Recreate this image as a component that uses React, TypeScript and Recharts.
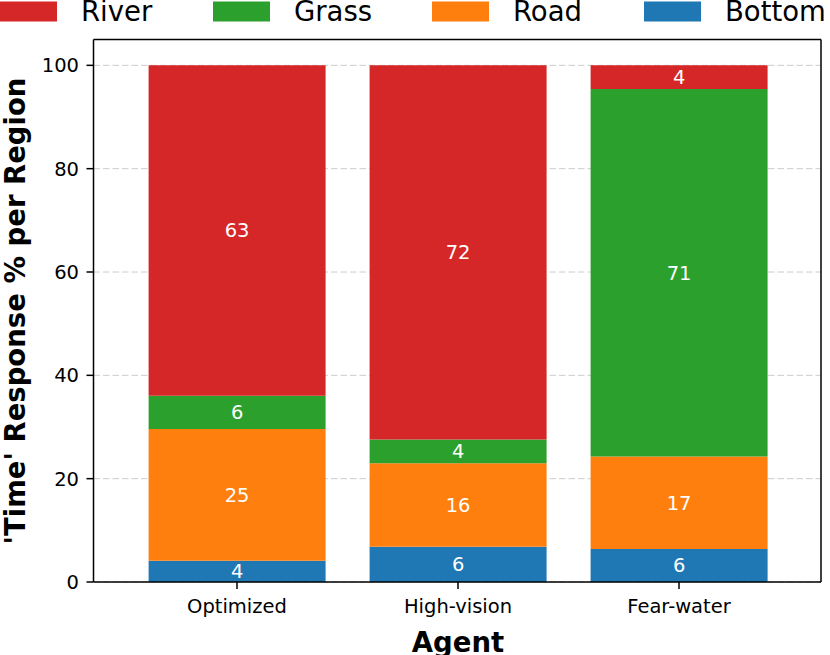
import React from 'react';
import { BarChart, Bar, XAxis, YAxis, CartesianGrid, Legend, LabelList } from 'recharts';

const agents = ['Optimized', 'High-vision', 'Fear-water'];
const bottomVals = [4.1, 6.8, 6.4];
const roadVals = [25.5, 16.2, 17.9];
const grassVals = [6.45, 4.6, 71.1];
const riverVals = [63.95, 72.4, 4.6];
const yTicks = [0, 20, 40, 60, 80, 100];
const seriesNames = ['Bottom', 'Road', 'Grass', 'River'];
const seriesColors = ['#1f77b4', '#ff7f0e', '#2ca02c', '#d62728'];
const seriesValues = [bottomVals, roadVals, grassVals, riverVals];

const data = agents.map((a, i) => {
  const row: Record<string, any> = { agent: a };
  seriesNames.forEach((s, j) => {
    row[s] = seriesValues[j][i];
  });
  return row;
});

const FONT = '"DejaVu Sans", sans-serif';
const legendX = [0, 213, 432, 644];

const renderLegend = () => {
  const items = seriesNames.map((n, i) => ({ name: n, color: seriesColors[i] })).reverse();
  return (
    <svg width={830} height={30} style={{ display: 'block' }}>
      {items.map((it, i) => (
        <g key={it.name}>
          <rect x={legendX[i]} y={1.5} width={57} height={20} fill={it.color} />
          <text x={legendX[i] + 81} y={21} fontSize={27.5} fontFamily={FONT} fill="#000">
            {it.name}
          </text>
        </g>
      ))}
    </svg>
  );
};

const YTitle = () => (
  <text
    x={25}
    y={311}
    transform="rotate(-90, 25, 311)"
    textAnchor="middle"
    fontSize={27.5}
    fontWeight="bold"
    fontFamily={FONT}
    fill="#000"
  >
    'Time' Response % per Region
  </text>
);

const XTitle = () => (
  <text x={458} y={651.7} textAnchor="middle" fontSize={27.5} fontWeight="bold" fontFamily={FONT} fill="#000">
    Agent
  </text>
);

export default function App() {
  return (
    <div style={{ position: 'absolute', left: 0, top: 0, width: 830, height: 655, background: '#fff' }}>
      <BarChart
        width={830}
        height={655}
        data={data}
        margin={{ top: 38.5, right: 8, bottom: 0, left: 0 }}
        barCategoryGap="10%"
        style={{ fontFamily: FONT }}
      >
        <CartesianGrid vertical={false} stroke="#cccccc" strokeDasharray="6.5 3" strokeWidth={1} />
        <XAxis
          dataKey="agent"
          height={73}
          padding={{ left: 33, right: 31.5 }}
          tickSize={7}
          tickMargin={10}
          tick={{ fill: '#000', fontSize: 19.5, fontFamily: FONT }}
          tickLine={{ stroke: '#000', strokeWidth: 1.5 }}
          axisLine={{ stroke: '#000', strokeWidth: 1.5 }}
          label={<XTitle />}
        />
        <XAxis
          xAxisId="top"
          dataKey="agent"
          orientation="top"
          height={1}
          tick={false}
          tickLine={false}
          axisLine={{ stroke: '#000', strokeWidth: 1.5 }}
        />
        <YAxis
          type="number"
          domain={[0, 105]}
          ticks={yTicks}
          width={93.5}
          tickSize={7}
          tickMargin={7.5}
          interval={0}
          tick={{ fill: '#000', fontSize: 19.5, fontFamily: FONT }}
          tickLine={{ stroke: '#000', strokeWidth: 1.5 }}
          axisLine={{ stroke: '#000', strokeWidth: 1.5 }}
          allowDataOverflow
          label={<YTitle />}
        />
        <YAxis
          yAxisId="right"
          orientation="right"
          type="number"
          domain={[0, 105]}
          width={1}
          tick={false}
          tickLine={false}
          axisLine={{ stroke: '#000', strokeWidth: 1.5 }}
        />
        <Legend
          layout="horizontal"
          verticalAlign="middle"
          align="center"
          content={renderLegend}
          wrapperStyle={{ position: 'absolute', top: 0, left: 0, width: 830, height: 30 }}
        />
        {seriesNames.map((s, i) => (
          <Bar key={s} dataKey={s} stackId="a" fill={seriesColors[i]} isAnimationActive={false}>
            <LabelList
              dataKey={s}
              position="center"
              fill="#fff"
              fontSize={19.5}
              fontFamily={FONT}
              formatter={(v: any) => Math.floor(Number(v))}
            />
          </Bar>
        ))}
      </BarChart>
    </div>
  );
}
